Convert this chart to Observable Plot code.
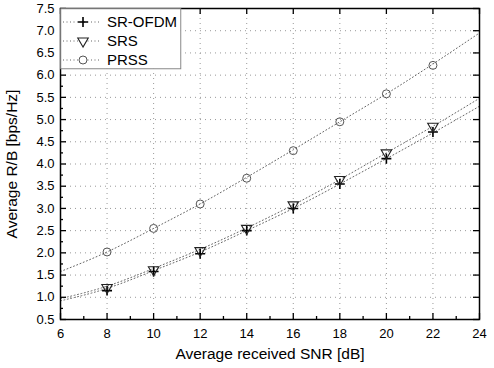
<!DOCTYPE html>
<html><head>
<meta charset="utf-8">
<script src="https://cdn.jsdelivr.net/npm/d3@7"></script>
<script src="https://cdn.jsdelivr.net/npm/@observablehq/plot@0.6"></script>
<style>
body{margin:0;background:#fff;}
#wrap{position:relative;width:494px;height:368px;font-family:"Liberation Sans",Arial,sans-serif;}
#legend{position:absolute;left:0;top:0;}
</style>
</head><body><div id="wrap"></div>
<script>
const seriesNames = ["SR-OFDM", "SRS", "PRSS"];
const snr = [8, 10, 12, 14, 16, 18, 20, 22];
const srOfdm = [1.15, 1.58, 1.98, 2.50, 3.00, 3.55, 4.12, 4.72];
const srs = [1.22, 1.62, 2.05, 2.55, 3.08, 3.65, 4.25, 4.85];
const prss = [2.02, 2.55, 3.10, 3.68, 4.30, 4.95, 5.58, 6.22];
const fitX = [6, 8, 10, 12, 14, 16, 18, 20, 22, 24];
const fitSrOfdm = [0.92, 1.20, 1.60, 2.02, 2.50, 3.00, 3.55, 4.12, 4.70, 5.30];
const fitSrs = [0.97, 1.25, 1.65, 2.08, 2.56, 3.08, 3.65, 4.25, 4.85, 5.48];
const fitPrss = [1.58, 2.02, 2.55, 3.10, 3.70, 4.32, 4.95, 5.58, 6.25, 6.95];
const xTicks = [6, 8, 10, 12, 14, 16, 18, 20, 22, 24];
const xMinor = [7, 9, 11, 13, 15, 17, 19, 21, 23];
const yTicks = [0.5, 1.0, 1.5, 2.0, 2.5, 3.0, 3.5, 4.0, 4.5, 5.0, 5.5, 6.0, 6.5, 7.0, 7.5];
const yMinor = [0.75, 1.25, 1.75, 2.25, 2.75, 3.25, 3.75, 4.25, 4.75, 5.25, 5.75, 6.25, 6.75, 7.25];
const xLabel = "Average received SNR [dB]";
const yLabel = "Average R/B [bps/Hz]";

const W = 494, H = 368;
const mL = 60, mR = 15, mT = 8, mB = 49;
const iW = W - mL - mR, iH = H - mT - mB;

const pointVals = [srOfdm, srs, prss];
const fitVals = [fitSrOfdm, fitSrs, fitPrss];
const points = seriesNames.flatMap((s, i) => snr.map((x, j) => ({series: s, x, y: pointVals[i][j]})));
const fits = seriesNames.flatMap((s, i) => fitX.map((x, j) => ({series: s, x, y: fitVals[i][j]})));

const styles = {
  "SR-OFDM": {symbol: "plus", r: 3.3, stroke: "#000", strokeWidth: 1.6, rotate: 0},
  "SRS": {symbol: "triangle", r: 3.9, stroke: "#222", strokeWidth: 1.1, rotate: 180},
  "PRSS": {symbol: "circle", r: 4, stroke: "#555", strokeWidth: 1, rotate: 0}
};

const marks = [
  Plot.gridX(xTicks, {stroke: "#999", strokeOpacity: 1, strokeDasharray: "1,4"}),
  Plot.gridY(yTicks, {stroke: "#999", strokeOpacity: 1, strokeDasharray: "1,4"}),
  Plot.line(fits, {x: "x", y: "y", z: "series", curve: "natural", stroke: "#666", strokeWidth: 1, strokeDasharray: "1,2.5"})
];
for (const s of seriesNames) {
  const st = styles[s];
  marks.push(Plot.dot(points.filter(d => d.series === s), {x: "x", y: "y", symbol: () => st.symbol, r: st.r, stroke: st.stroke, strokeWidth: st.strokeWidth, fill: "none", rotate: st.rotate}));
}
marks.push(
  Plot.tickX(xTicks, {x: d => d, insetTop: iH - 6, stroke: "#000", strokeWidth: 1.3}),
  Plot.tickX(xMinor, {x: d => d, insetTop: iH - 3, stroke: "#000", strokeWidth: 1.3}),
  Plot.tickX(xTicks, {x: d => d, insetBottom: iH - 6, stroke: "#000", strokeWidth: 1.3}),
  Plot.tickY(yTicks, {y: d => d, insetRight: iW - 6, stroke: "#000", strokeWidth: 1.3}),
  Plot.tickY(yMinor, {y: d => d, insetRight: iW - 3, stroke: "#000", strokeWidth: 1.3}),
  Plot.tickY(yTicks, {y: d => d, insetLeft: iW - 6, stroke: "#000", strokeWidth: 1.3}),
  Plot.frame({stroke: "#000", strokeWidth: 1.5}),
  Plot.axisX(xTicks, {tickSize: 0, tickPadding: 9, fontSize: 13, label: xLabel, labelAnchor: "center", labelArrow: false, labelOffset: 39}),
  Plot.axisY(yTicks, {tickSize: 0, tickPadding: 6, fontSize: 13, tickFormat: d3.format(".1f"), label: yLabel, labelAnchor: "center", labelArrow: false, labelOffset: 55})
);

const chart = Plot.plot({
  width: W, height: H,
  marginLeft: mL, marginRight: mR, marginTop: mT, marginBottom: mB,
  style: {fontFamily: "'Liberation Sans', Arial, sans-serif", fontSize: "13px", color: "#000", background: "#fff"},
  x: {domain: [6, 24]},
  y: {domain: [0.5, 7.5]},
  marks
});
d3.select(chart).selectAll('[aria-label="x-axis label"], [aria-label="y-axis label"]').attr("font-size", 15.5);
const wrap = document.getElementById("wrap");
wrap.appendChild(chart);

// legend overlay
const lg = d3.select(wrap).append("svg").attr("id", "legend").attr("width", W).attr("height", H)
  .style("font-family", "'Liberation Sans', Arial, sans-serif");
lg.append("rect").attr("x", mL + 0.75).attr("y", mT + 0.75).attr("width", 120).attr("height", 60)
  .attr("fill", "#fff").attr("stroke", "#888").attr("stroke-width", 1);
seriesNames.forEach((s, i) => {
  const st = styles[s];
  const cy = 22 + i * 19;
  lg.append("line").attr("x1", 63).attr("x2", 101).attr("y1", cy).attr("y2", cy)
    .attr("stroke", "#666").attr("stroke-dasharray", "1,2.5");
  const sym = {plus: d3.symbolPlus, triangle: d3.symbolTriangle, circle: d3.symbolCircle}[st.symbol];
  const size = Math.PI * st.r * st.r;
  lg.append("path").attr("d", d3.symbol(sym, size)())
    .attr("transform", `translate(83,${cy}) rotate(${st.rotate})`)
    .attr("fill", "#fff").attr("stroke", st.stroke).attr("stroke-width", st.strokeWidth);
  lg.append("text").attr("x", 107).attr("y", cy).attr("dy", "0.35em")
    .attr("font-size", 15).text(s);
});
</script>
</body></html>
